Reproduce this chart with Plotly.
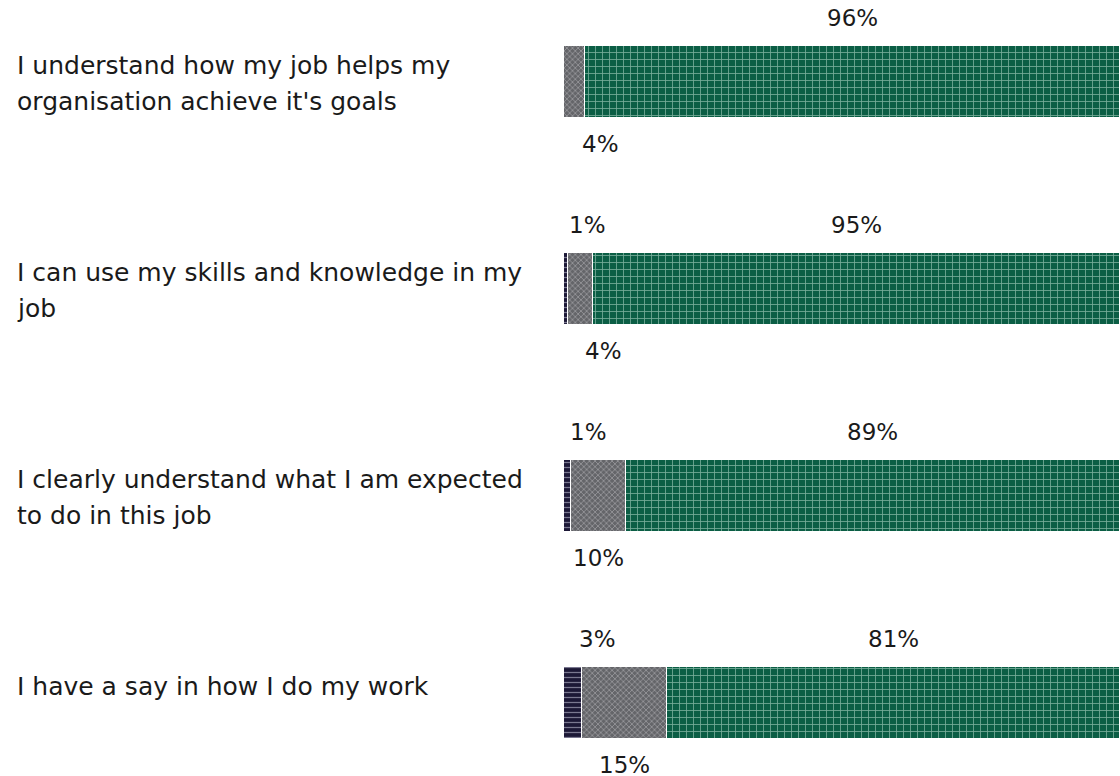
import plotly.graph_objects as go

categories = [
    "I understand how my job helps my<br>organisation achieve it's goals",
    "I can use my skills and knowledge in my<br>job",
    "I clearly understand what I am expected<br>to do in this job",
    "I have a say in how I do my work",
]
disagree = [0.0, 0.8, 1.2, 3.2]
neutral = [3.8, 4.4, 9.9, 15.4]
agree = [96.2, 94.8, 88.9, 81.4]

W, H = 1120, 776
L = 564
plot_w = W - L
slot = 207.0
first_center = 82.0
bar_px = 72.0

ypos = list(range(len(categories)))
y_top = -first_center / slot
y_bot = (len(categories) - 1) + (H - (first_center + slot * (len(categories) - 1))) / slot

FONT = "DejaVu Sans"
TXT = "#1a1a1a"

series = [
    ("Disagree", disagree, "#1c1836", "#7a7890", "-", 5, 0.25),
    ("Neutral", neutral, "#646569", "#9c9ca0", "x", 4, 0.35),
    ("Agree", agree, "#0b5e45", "#78ae9a", "+", 7, 0.22),
]

fig = go.Figure()
for name, vals, bg, fg, shape, size, sol in series:
    fig.add_trace(go.Bar(
        name=name, y=ypos, x=vals, orientation="h",
        width=bar_px / slot,
        marker=dict(
            color=bg,
            line=dict(color="white", width=1),
            pattern=dict(shape=shape, bgcolor=bg, fgcolor=fg, size=size,
                         solidity=sol, fillmode="replace"),
        ),
        hoverinfo="skip", showlegend=False,
    ))

annotations = []
# category labels, top aligned to bar
for i, cat in enumerate(categories):
    for j, line in enumerate(cat.split("<br>")):
        annotations.append(dict(
            xref="paper", yref="y", x=(15 - L) / plot_w, y=i,
            xanchor="left", yanchor="middle", showarrow=False,
            text=line, yshift=17 - 36 * j,
            font=dict(family=FONT, size=25, color=TXT),
        ))

# value labels
for i in range(len(categories)):
    start = 0.0
    for k, (name, vals, *_rest) in enumerate(series):
        v = vals[i]
        if round(v) >= 1:
            center = start + v / 2
            if v < 6:
                center = max(center, 3.5 + 0.8 * v)
            shift = 64 if k != 1 else -62
            annotations.append(dict(
                xref="x", yref="y", x=center, y=i, xanchor="center",
                yanchor="middle", showarrow=False, text=f"{round(v)}%",
                yshift=shift, font=dict(family=FONT, size=23, color=TXT),
            ))
        start += v

fig.update_layout(
    width=W, height=H,
    margin=dict(l=L, r=0, t=0, b=0),
    barmode="stack",
    bargap=0,
    plot_bgcolor="white", paper_bgcolor="white",
    xaxis=dict(range=[0, 100], visible=False, fixedrange=True),
    yaxis=dict(range=[y_bot, y_top], visible=False, fixedrange=True),
    annotations=annotations,
    showlegend=False,
)

fig.write_html(
    "out.html",
    config={"displayModeBar": False},
    post_script="document.body.style.margin='0';document.body.style.overflow='hidden';",
)
